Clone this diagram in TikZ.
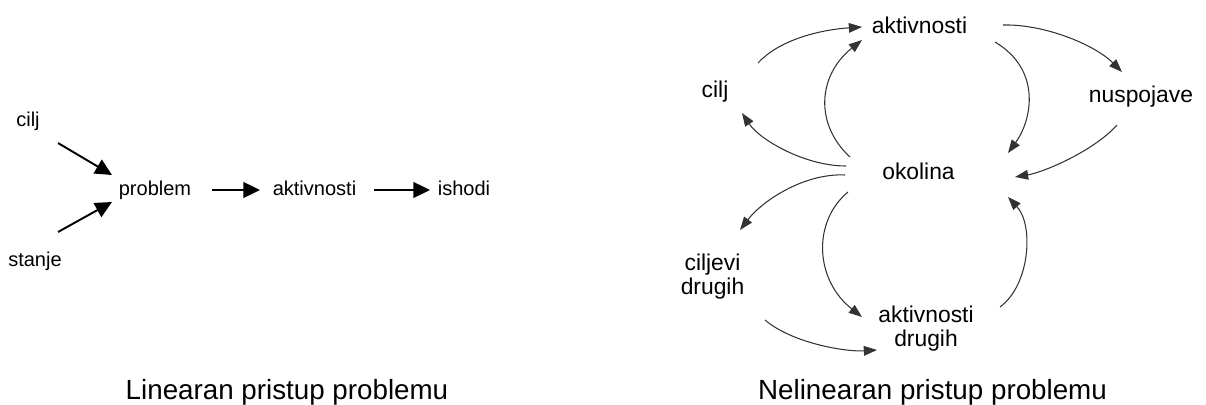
\documentclass[tikz,border=0pt]{standalone}
\usepackage{fontspec}
\setmainfont{Liberation Sans}
\usetikzlibrary{arrows.meta}

\tikzset{
  lbl/.style={font=\fontsize{11.4}{13}\selectfont, inner sep=0pt, anchor=base},
  rlbl/.style={font=\fontsize{13}{13.66}\selectfont, inner sep=0pt, anchor=base},
  rlbltwo/.style={rlbl, anchor=center, align=center},
  heading/.style={font=\fontsize{15.8}{18}\selectfont, inner sep=0pt, anchor=base},
  bigarrow/.style={->, >={Triangle[length=9.5pt,width=9pt]}, line width=1.1pt},
  thinarrow/.style={->, >={Triangle[length=7.5pt,width=5.5pt]}, line width=0.6pt, black!80}
}

\begin{document}
\begin{tikzpicture}[x=0.02cm, y=-0.02cm]

\useasboundingbox (0,0) rectangle (1206,405);

\node[lbl] (cilj) at (28,127) {cilj};
\node[lbl] (stanje) at (35,266) {stanje};
\node[lbl] (problem) at (155,195) {problem};
\node[lbl] (aktivnosti) at (314.5,195) {aktivnosti};
\node[lbl] (ishodi) at (464,195) {ishodi};

\draw[bigarrow] ([shift={(30,16)}]cilj.base) -- ([shift={(-43,-20)}]problem.base);
\draw[bigarrow] ([shift={(23,-34)}]stanje.base) -- ([shift={(-43,7)}]problem.base);
\draw[bigarrow] ([shift={(57,-5)}]problem.base) -- ([shift={(-54.5,-5)}]aktivnosti.base);
\draw[bigarrow] ([shift={(59.5,-5)}]aktivnosti.base) -- ([shift={(-34,-5)}]ishodi.base);

\node[heading] (linearni) at (287,399) {Linearan pristup problemu};

\node[rlbl] (ncilj) at (715,98) {cilj};
\node[rlbl] (naktivnosti) at (919.5,34) {aktivnosti};
\node[rlbl] (nuspojave) at (1141,103) {nuspojave};
\node[rlbl] (okolina) at (918.5,180) {okolina};
\node[rlbltwo] (ciljevi) at (712.5,277) {ciljevi\\drugih};
\node[rlbltwo] (drugi) at (926,329) {aktivnosti\\drugih};

\draw[thinarrow] ([shift={(43,-35)}]ncilj.base) .. controls +(20,-22) and +(-45,3) .. ([shift={(-57.5,-7)}]naktivnosti.base);
\draw[thinarrow] ([shift={(-68.5,-23)}]okolina.base) .. controls +(-35,-32) and +(-45,36) .. ([shift={(-57.5,6)}]naktivnosti.base);
\draw[thinarrow] ([shift={(75.5,8)}]naktivnosti.base) .. controls +(47,28) and +(24,-33) .. ([shift={(89.5,-27)}]okolina.base);
\draw[thinarrow] ([shift={(83.5,-9)}]naktivnosti.base) .. controls +(42,-1) and +(-27,-27) .. ([shift={(-19,-31)}]nuspojave.base);
\draw[thinarrow] ([shift={(-24,22)}]nuspojave.base) .. controls +(-22,25) and +(30,-5) .. ([shift={(96.5,-3)}]okolina.base);
\draw[thinarrow] ([shift={(-72.5,-14)}]okolina.base) .. controls +(-41,0) and +(18,27) .. ([shift={(27,15)}]ncilj.base);
\draw[thinarrow] ([shift={(-73.5,-5)}]okolina.base) .. controls +(-40,-2) and +(23,-30) .. ([shift={(27.5,-47)}]ciljevi.center);
\draw[thinarrow] ([shift={(-70.5,12)}]okolina.base) .. controls +(-36,30) and +(-47,-37) .. ([shift={(-64,-12)}]drugi.center);
\draw[thinarrow] ([shift={(74,-22)}]drugi.center) .. controls +(30,-22) and +(26,28) .. ([shift={(89.5,17)}]okolina.base);
\draw[thinarrow] ([shift={(52.5,43)}]ciljevi.center) .. controls +(27,23) and +(-32,2) .. ([shift={(-49,21)}]drugi.center);

\node[heading] (nelinearni) at (932.5,399) {Nelinearan pristup problemu};

\end{tikzpicture}
\end{document}
